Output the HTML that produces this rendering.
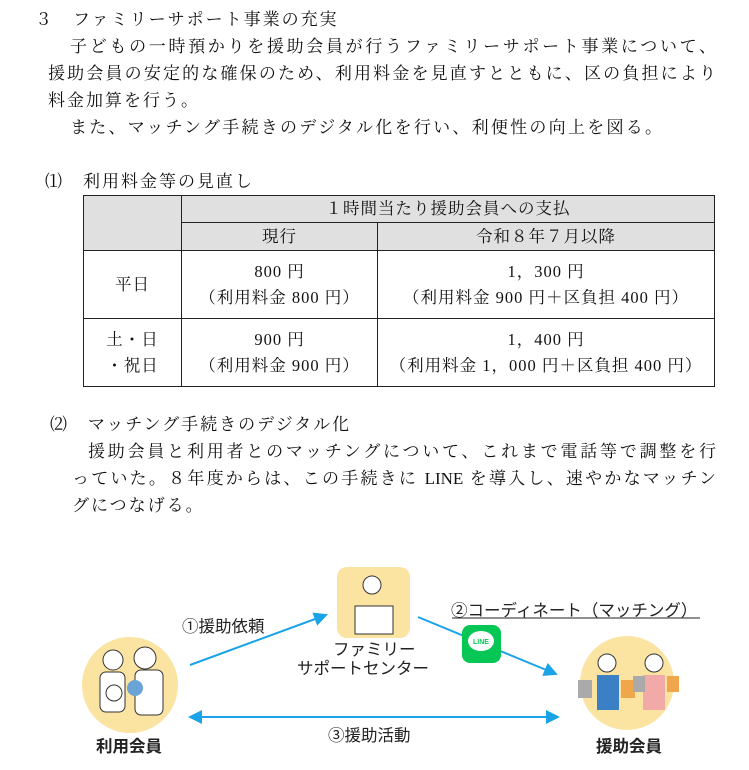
<!DOCTYPE html>
<html><head><meta charset="utf-8"><style>
body{margin:0;width:749px;height:770px;background:#fff;position:relative;overflow:hidden;font-family:"Liberation Serif","Noto Serif CJK JP","Noto Serif CJK SC",serif;color:#111;}
.t{position:absolute;font-size:17px;letter-spacing:2px;white-space:nowrap;line-height:20px;}
.j{text-align:justify;text-align-last:justify;letter-spacing:0;}
table{position:absolute;left:83px;top:195px;border-collapse:collapse;font-size:16.5px;letter-spacing:1px;}
td{border:1.5px solid #222;text-align:center;padding:0;line-height:26px;}
.g{background:#e0e0e0;}
.s{position:absolute;font-family:"Liberation Sans","Noto Sans CJK JP",sans-serif;font-size:16.5px;white-space:nowrap;color:#222;}
</style></head><body>
<div class="t" style="left:35px;top:10px">３　ファミリーサポート事業の充実</div>
<div class="t j" style="left:70px;top:37px;width:646px">子どもの一時預かりを援助会員が行うファミリーサポート事業について、</div>
<div class="t j" style="left:48px;top:64px;width:668px">援助会員の安定的な確保のため、利用料金を見直すとともに、区の負担により</div>
<div class="t" style="left:48px;top:91px">料金加算を行う。</div>
<div class="t j" style="left:70px;top:118px;width:592px">また、マッチング手続きのデジタル化を行い、利便性の向上を図る。</div>
<div class="t" style="left:45px;top:172px">⑴　利用料金等の見直し</div>
<table>
<tr style="height:27px"><td class="g" rowspan="2" style="width:97px"></td><td class="g" colspan="2">１時間当たり援助会員への支払</td></tr>
<tr style="height:28px"><td class="g" style="width:195px">現行</td><td class="g" style="width:336px">令和８年７月以降</td></tr>
<tr style="height:68px"><td>平日</td><td>800 円<br>（利用料金 800 円）</td><td>1，300 円<br>（利用料金 900 円＋区負担 400 円）</td></tr>
<tr style="height:68px"><td>土・日<br>・祝日</td><td>900 円<br>（利用料金 900 円）</td><td>1，400 円<br>（利用料金 1，000 円＋区負担 400 円）</td></tr>
</table>
<div class="t" style="left:50px;top:415px">⑵　マッチング手続きのデジタル化</div>
<div class="t j" style="left:88px;top:442px;width:628px">援助会員と利用者とのマッチングについて、これまで電話等で調整を行</div>
<div class="t j" style="left:72px;top:469px;width:644px">っていた。８年度からは、この手続きに LINE を導入し、速やかなマッチン</div>
<div class="t" style="left:72px;top:496px">グにつなげる。</div>

<svg style="position:absolute;left:0;top:0" width="749" height="770">
<defs><marker id="a" markerWidth="14" markerHeight="14" refX="12" refY="7" orient="auto-start-reverse" markerUnits="userSpaceOnUse"><path d="M0,0 L14,7 L0,14 z" fill="#1aa3e6"/></marker></defs>
<circle cx="130" cy="685" r="48" fill="#fbe3a2"/>
<circle cx="627" cy="683" r="47" fill="#fbe3a2"/>
<rect x="337" y="567" width="73" height="71" rx="10" fill="#fbe3a2"/>
<rect x="355" y="606" width="38" height="28" fill="#fff" stroke="#333"/>
<circle cx="372" cy="585" r="9" fill="#fff" stroke="#333"/>
<circle cx="113" cy="660" r="10" fill="#fff" stroke="#333"/><circle cx="145" cy="658" r="11" fill="#fff" stroke="#333"/>
<rect x="135" y="670" width="28" height="45" rx="6" fill="#fff" stroke="#333"/>
<rect x="100" y="672" width="25" height="40" rx="6" fill="#fff" stroke="#333"/>
<circle cx="114" cy="693" r="8" fill="#fff" stroke="#333"/><circle cx="135" cy="688" r="8" fill="#6aa3d6"/>
<circle cx="607" cy="663" r="9" fill="#fff" stroke="#333"/><circle cx="654" cy="663" r="9" fill="#fff" stroke="#333"/>
<rect x="597" y="675" width="22" height="35" fill="#3b7fc4"/><rect x="643" y="675" width="22" height="35" fill="#f2aaa8"/>
<rect x="578" y="680" width="14" height="18" fill="#aaa"/><rect x="621" y="680" width="14" height="18" fill="#f0a64a"/>
<rect x="633" y="676" width="12" height="16" fill="#aaa"/><rect x="667" y="676" width="12" height="16" fill="#f0a64a"/>
<line x1="190" y1="665" x2="326" y2="615" stroke="#1aa3e6" stroke-width="2" marker-end="url(#a)"/>
<line x1="418" y1="617" x2="556" y2="674" stroke="#1aa3e6" stroke-width="2" marker-end="url(#a)"/>
<line x1="190" y1="717" x2="558" y2="717" stroke="#1aa3e6" stroke-width="2" marker-start="url(#a)" marker-end="url(#a)"/>
<rect x="462" y="625" width="39" height="38" rx="8" fill="#06c755"/>
<ellipse cx="481" cy="641" rx="13" ry="10" fill="#fff"/>
<text x="481" y="644" font-family="Liberation Sans,sans-serif" font-size="7" font-weight="bold" fill="#06c755" text-anchor="middle">LINE</text>
<line x1="452" y1="618" x2="700" y2="618" stroke="#222" stroke-width="1"/>
</svg>
<div class="s" style="left:182px;top:613px">①援助依頼</div>
<div class="s" style="left:451px;top:597px">②コーディネート（マッチング）</div>
<div class="s" style="left:333px;top:641px;text-align:center;width:80px;line-height:19px">ファミリー<br><span style="margin-left:-36px">サポートセンター</span></div>
<div class="s" style="left:328px;top:722px">③援助活動</div>
<div class="s" style="left:96px;top:733px;font-weight:bold">利用会員</div>
<div class="s" style="left:596px;top:733px;font-weight:bold">援助会員</div>
</body></html>
